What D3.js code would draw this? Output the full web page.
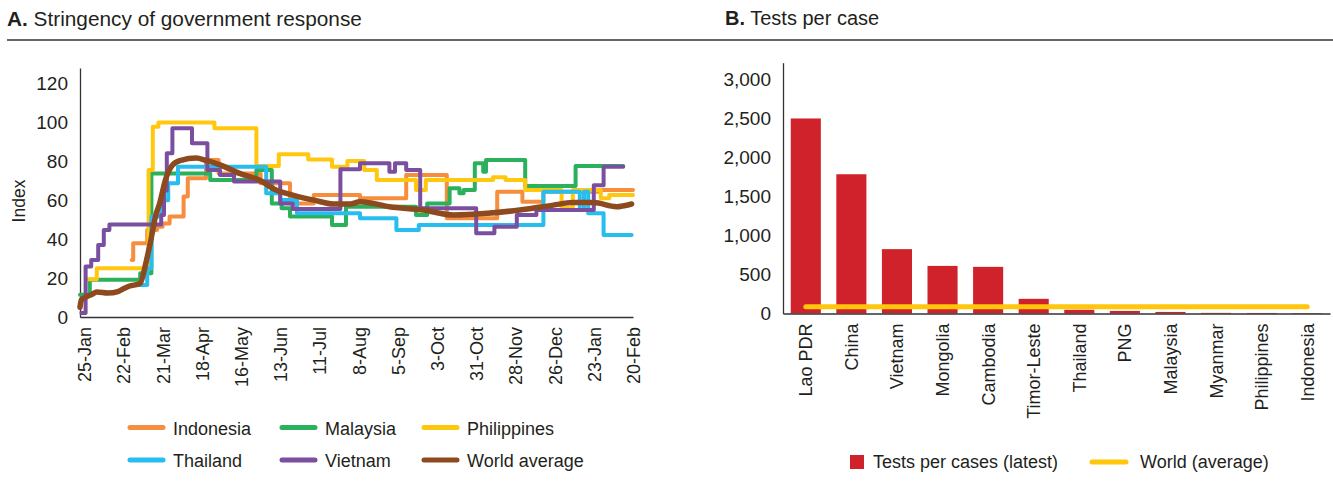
<!DOCTYPE html>
<html>
<head>
<meta charset="utf-8">
<script src="https://cdn.jsdelivr.net/npm/d3@7"></script>
<style>
  html, body { margin: 0; padding: 0; background: #fff; }
  svg { display: block; }
  text { font-family: "Liberation Sans", Arial, sans-serif; fill: #231f20; }
</style>
</head>
<body>
<svg id="chart" width="1333" height="483"></svg>
<script>
// ---------------- DATA ----------------
// Panel A: stringency index (step series, [date, value])
const indonesia = [["2020-02-28",29.3],["2020-02-29",37.9],["2020-03-10",44.7],["2020-03-17",46.4],["2020-03-21",48.1],["2020-03-26",51.6],["2020-04-05",61.9],["2020-04-08",71.3],["2020-04-21",80.7],["2020-04-30",73.8],["2020-05-30",68.7],["2020-06-20",58.4],["2020-07-07",62.7],["2020-08-09",61.0],["2020-09-11",73.0],["2020-10-10",50.7],["2020-11-15",64.4],["2020-12-03",59.3],["2020-12-18",64.4],["2021-01-27",65.3],["2021-02-20",65.3]];
const malaysia = [["2020-01-22",11.4],["2020-01-29",19.1],["2020-03-05",22.5],["2020-03-13",73.8],["2020-04-24",70.4],["2020-05-27",75.6],["2020-06-07",58.4],["2020-06-14",55.9],["2020-06-20",51.6],["2020-07-20",47.3],["2020-07-30",56.7],["2020-09-18",52.4],["2020-09-26",58.4],["2020-10-12",66.2],["2020-10-19",63.6],["2020-10-22",65.3],["2020-10-30",79.0],["2020-11-05",74.7],["2020-11-07",80.7],["2020-12-05",67.4],["2021-01-10",77.6],["2021-02-13",77.6]];
const philippines = [["2020-01-27",19.4],["2020-02-03",25.0],["2020-03-11",75.6],["2020-03-14",97.8],["2020-03-18",100],["2020-04-27",97.0],["2020-05-27",77.6],["2020-06-12",83.7],["2020-07-03",81.0],["2020-07-20",77.3],["2020-07-31",80.2],["2020-08-12",75.6],["2020-08-21",70.4],["2020-09-18",65.3],["2020-09-25",70.4],["2020-11-12",71.8],["2020-11-21",70.4],["2020-12-05",65.3],["2020-12-31",56.0],["2021-01-08",65.3],["2021-01-28",61.0],["2021-02-03",62.7],["2021-02-20",62.7]];
const thailand = [["2020-03-02",16.4],["2020-03-10",25.0],["2020-03-13",51.6],["2020-03-20",60.0],["2020-03-25",68.7],["2020-04-01",77.3],["2020-06-03",63.6],["2020-06-13",60.1],["2020-06-25",53.3],["2020-08-09",50.7],["2020-09-04",44.7],["2020-09-20",47.3],["2020-12-18",64.4],["2021-01-13",55.0],["2021-01-16",64.4],["2021-01-19",53.3],["2021-01-30",42.1],["2021-02-19",42.1]];
const vietnam = [["2020-01-23",2.0],["2020-01-26",25.9],["2020-01-30",29.3],["2020-02-04",37.0],["2020-02-08",44.7],["2020-02-12",47.6],["2020-03-20",52.4],["2020-03-22",65.0],["2020-03-24",84.2],["2020-03-28",97.0],["2020-04-11",89.3],["2020-04-22",75.6],["2020-05-01",73.0],["2020-05-11",69.6],["2020-06-13",58.4],["2020-06-22",55.5],["2020-07-26",76.0],["2020-08-09",79.0],["2020-08-30",74.7],["2020-09-03",79.0],["2020-09-11",75.6],["2020-09-21",55.9],["2020-10-31",43.0],["2020-11-13",46.4],["2020-11-29",52.4],["2020-12-13",55.0],["2021-01-23",67.7],["2021-01-30",77.3],["2021-02-13",77.3]];
const worldAverage = [["2020-01-22",5.0],["2020-01-23",8.8],["2020-01-27",10.5],["2020-01-30",11.4],["2020-02-03",12.8],["2020-02-11",12.3],["2020-02-18",13.1],["2020-02-22",14.5],["2020-02-26",15.8],["2020-03-05",17.3],["2020-03-09",27.6],["2020-03-13",41.0],["2020-03-16",52.0],["2020-03-19",58.6],["2020-03-23",70.4],["2020-03-28",78.0],["2020-04-03",80.5],["2020-04-14",81.7],["2020-04-21",80.5],["2020-05-01",78.2],["2020-05-15",73.8],["2020-05-29",70.4],["2020-06-10",65.3],["2020-06-22",62.7],["2020-07-07",60.1],["2020-07-21",58.1],["2020-08-02",58.1],["2020-08-09",59.3],["2020-08-30",56.7],["2020-09-23",55.0],["2020-10-15",52.4],["2020-11-08",53.3],["2020-12-01",55.0],["2020-12-25",57.5],["2021-01-08",58.8],["2021-01-23",58.8],["2021-02-08",56.7],["2021-02-19",58.1]];

const seriesNames = ["Indonesia","Malaysia","Philippines","Thailand","Vietnam","World average"];
const seriesColors = ["#F68E3E","#2BB05C","#FFC80E","#27BDEF","#7B4FA0","#8C4A1E"];
const xTickDates = ["2020-01-25","2020-02-22","2020-03-21","2020-04-18","2020-05-16","2020-06-13","2020-07-11","2020-08-08","2020-09-05","2020-10-03","2020-10-31","2020-11-28","2020-12-26","2021-01-23","2021-02-20"];
const yTicksA = [0,20,40,60,80,100,120];

// Panel B: tests per case
const countries = ["Lao PDR","China","Vietnam","Mongolia","Cambodia","Timor-Leste","Thailand","PNG","Malaysia","Myanmar","Philippines","Indonesia"];
const testsPerCase = [2500,1785,825,610,598,188,48,33,20,8,7,6];
const worldTestsAverage = 88;
const yTicksB = [0,500,1000,1500,2000,2500,3000];

// ---------------- DRAW ----------------
const parse = d3.timeParse("%Y-%m-%d");
const svg = d3.select("#chart");
const axisColor = "#333";

// Titles
const tA = svg.append("text").attr("x",7).attr("y",26).attr("font-size",20.8);
tA.append("tspan").attr("font-weight","bold").text("A.");
tA.append("tspan").text(" Stringency of government response");
const tB = svg.append("text").attr("x",725).attr("y",25).attr("font-size",20);
tB.append("tspan").attr("font-weight","bold").text("B.");
tB.append("tspan").text(" Tests per case");
svg.append("line").attr("x1",7).attr("x2",1333).attr("y1",40).attr("y2",40)
  .attr("stroke",axisColor).attr("stroke-width",1.5);

// ---- Panel A ----
const xA = d3.scaleTime().domain([parse("2020-01-22"), parse("2021-02-20")]).range([80,633]);
const yA = d3.scaleLinear().domain([0,128]).range([317,68]);

const gYA = svg.append("g").attr("transform","translate(80,0)")
  .call(d3.axisLeft(yA).tickValues(yTicksA).tickSize(0).tickPadding(12));
gYA.select(".domain").attr("stroke",axisColor).attr("stroke-width",1.3);
gYA.selectAll("text").attr("font-size",19).attr("font-family",null).attr("fill","#231f20");

const gXA = svg.append("g").attr("transform","translate(0,317)")
  .call(d3.axisBottom(xA).tickValues(xTickDates.map(parse)).tickSize(0)
    .tickFormat(d3.timeFormat("%-d-%b")));
gXA.select(".domain").attr("stroke",axisColor).attr("stroke-width",1.3);
gXA.selectAll("text").attr("font-size",18).attr("font-family",null).attr("fill","#231f20")
  .attr("transform","rotate(-90)").attr("text-anchor","end")
  .attr("x",-10).attr("y",0).attr("dy","0.36em");

svg.append("text").attr("transform","translate(18.5,201) rotate(-90)")
  .attr("text-anchor","middle").attr("dominant-baseline","central")
  .attr("font-size",17.5).text("Index");

const allSeries = [indonesia, malaysia, philippines, thailand, vietnam, worldAverage];
const stepLine = d3.line().x(d => xA(parse(d[0]))).y(d => yA(d[1])).curve(d3.curveStepAfter);
const smoothLine = d3.line().x(d => xA(parse(d[0]))).y(d => yA(d[1])).curve(d3.curveMonotoneX);
allSeries.forEach((s, i) => {
  const isWorld = i === 5;
  svg.append("path").datum(s)
    .attr("d", isWorld ? smoothLine : stepLine)
    .attr("fill","none").attr("stroke",seriesColors[i])
    .attr("stroke-width", isWorld ? 5.5 : 4)
    .attr("stroke-linejoin","round").attr("stroke-linecap","round");
});

// Legend A
const legCols = [128, 280, 422], legRows = [428.5, 461];
seriesNames.forEach((name, i) => {
  const cx = legCols[i % 3], cy = legRows[Math.floor(i / 3)];
  svg.append("line").attr("x1",cx+2).attr("x2",cx+35).attr("y1",cy-1).attr("y2",cy-1)
    .attr("stroke",seriesColors[i]).attr("stroke-width",5).attr("stroke-linecap","round");
  svg.append("text").attr("x",cx+45).attr("y",cy).attr("dominant-baseline","central")
    .attr("font-size",18).text(name);
});

// ---- Panel B ----
const xB = d3.scaleBand().domain(countries).range([783,1330]).paddingInner(0.34).paddingOuter(0.17);
const yB = d3.scaleLinear().domain([0,3215]).range([313.5,62.7]);

const gYB = svg.append("g").attr("transform","translate(783,0)")
  .call(d3.axisLeft(yB).tickValues(yTicksB).tickSize(0).tickPadding(12).tickFormat(d3.format(",")));
gYB.select(".domain").attr("stroke",axisColor).attr("stroke-width",1.3);
gYB.selectAll("text").attr("font-size",19).attr("font-family",null).attr("fill","#231f20");

svg.append("g").selectAll("rect").data(countries).join("rect")
  .attr("x", d => xB(d)).attr("width", xB.bandwidth())
  .attr("y", (d, i) => yB(testsPerCase[i]))
  .attr("height", (d, i) => yB(0) - yB(testsPerCase[i]))
  .attr("fill","#D0222A");

const gXB = svg.append("g").attr("transform",`translate(0,${yB(0)})`)
  .call(d3.axisBottom(xB).tickSize(0).tickSizeOuter(0));
gXB.select(".domain").attr("stroke",axisColor).attr("stroke-width",1.3);
gXB.selectAll("text").attr("font-size",18).attr("font-family",null).attr("fill","#231f20")
  .attr("transform","rotate(-90)").attr("text-anchor","end")
  .attr("x",-10).attr("y",0).attr("dy","0.36em");

const avgLine = d3.line().x(d => xB(d) + xB.bandwidth()/2).y(() => yB(worldTestsAverage));
svg.append("path").datum([countries[0], countries[countries.length-1]])
  .attr("d", avgLine).attr("fill","none").attr("stroke","#FFC60B")
  .attr("stroke-width",5).attr("stroke-linecap","round");

// Legend B
svg.append("rect").attr("x",850).attr("y",455).attr("width",14).attr("height",14).attr("fill","#D0222A");
svg.append("text").attr("x",873).attr("y",462).attr("dominant-baseline","central").attr("font-size",18)
  .text("Tests per cases (latest)");
svg.append("line").attr("x1",1092).attr("x2",1126).attr("y1",462).attr("y2",462)
  .attr("stroke","#FFC60B").attr("stroke-width",5).attr("stroke-linecap","round");
svg.append("text").attr("x",1140).attr("y",462).attr("dominant-baseline","central").attr("font-size",18)
  .text("World (average)");
</script>
</body>
</html>
